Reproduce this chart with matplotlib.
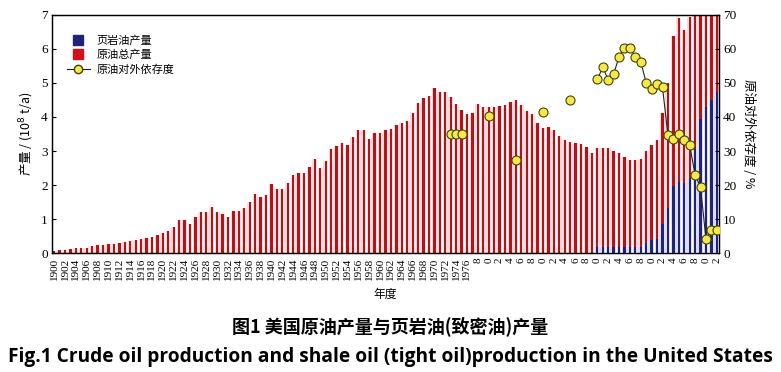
import numpy as np
import pandas as pd
import matplotlib
matplotlib.use("Agg")
import matplotlib.pyplot as plt
from matplotlib.lines import Line2D

plt.rcParams['font.family'] = ['Liberation Serif', 'Noto Sans CJK SC', 'DejaVu Sans']

# ---------------- data ----------------
start_year = 1900
crude_total = [
    0.07, 0.09, 0.11, 0.13, 0.16, 0.17, 0.15, 0.21, 0.23, 0.23,   # 1900-1909
    0.27, 0.28, 0.29, 0.34, 0.35, 0.38, 0.41, 0.44, 0.48, 0.53,   # 1910-1919
    0.61, 0.65, 0.76, 0.98, 0.98, 0.86, 1.06, 1.21, 1.21, 1.37,   # 1920-1929
    1.21, 1.16, 1.07, 1.24, 1.24, 1.33, 1.50, 1.74, 1.64, 1.71,   # 1930-1939
    2.03, 1.90, 1.88, 2.06, 2.30, 2.35, 2.37, 2.53, 2.76, 2.51,   # 1940-1949
    2.71, 3.06, 3.14, 3.23, 3.18, 3.40, 3.61, 3.61, 3.35, 3.54,   # 1950-1959
    3.54, 3.61, 3.66, 3.76, 3.82, 3.89, 4.13, 4.41, 4.57, 4.61,   # 1960-1969
    4.85, 4.73, 4.73, 4.60, 4.38, 4.19, 4.09, 4.13, 4.37, 4.30,   # 1970-1979
    4.30, 4.28, 4.32, 4.34, 4.45, 4.49, 4.34, 4.18, 4.09, 3.81,   # 1980-1989
    3.69, 3.71, 3.62, 3.44, 3.32, 3.27, 3.23, 3.21, 3.13, 2.95,   # 1990-1999
    3.10, 3.10, 3.08, 3.00, 2.93, 2.82, 2.74, 2.74, 2.76, 3.01,   # 2000-2009
    3.17, 3.32, 4.13, 5.00, 6.38, 6.89, 6.55, 6.92, 8.10, 9.10,   # 2010-2019
    8.30, 8.30, 8.80,                                             # 2020-2022
]
shale_years = list(range(2000, 2023))
shale_oil = [0.18, 0.18, 0.18, 0.18, 0.18, 0.18, 0.18, 0.18, 0.20, 0.31,
             0.39, 0.43, 0.85, 1.32, 1.98, 2.10, 2.06, 2.22, 3.05, 3.95,
             4.30, 4.50, 4.74]
dep_years = [1973, 1974, 1975, 1980, 1985, 1990, 1995] + list(range(2000, 2023))
dep_values = [35.0, 35.0, 35.0, 40.4, 27.5, 41.5, 44.9,
              51.0, 54.6, 50.9, 52.6, 57.6, 60.2, 60.2, 57.7, 56.2, 50.0,
              48.3, 49.7, 48.7, 34.6, 33.6, 35.1, 33.3, 31.7, 23.1, 19.4,
              4.2, 6.8, 6.8]

legend_labels = ['页岩油产量', '原油总产量', '原油对外依存度']
ylabel_left = '产量 / (10$^8$ t/a)'
ylabel_right = '原油对外依存度 / %'
xlabel = '年度'
title_cn = '图1 美国原油产量与页岩油(致密油)产量'
title_en = 'Fig.1 Crude oil production and shale oil (tight oil)production in the United States'

# ---------------- figure ----------------
years = np.arange(start_year, start_year + len(crude_total))
fig = plt.figure(figsize=(7.81, 3.72), dpi=100)
ax = fig.add_axes([0.0666, 0.319, 0.9206 - 0.0666, 0.9605 - 0.319])

red = '#b3141c'
blue = '#1f2478'
# halo (soft fill) + core bars
ax.bar(years, crude_total, width=0.9, color='#f8dcdc', zorder=1)
ax.bar(years, crude_total, width=0.42, color=red, zorder=2)
ax.bar(shale_years, shale_oil, width=0.9, color='#dcdcee', zorder=3)
ax.bar(shale_years, shale_oil, width=0.42, color=blue, zorder=4)

ax.set_xlim(1899.6, 2022.4)
ax.set_ylim(0, 7)
ax.set_yticks(range(0, 8))
ax.tick_params(axis='y', direction='in', length=3, labelsize=9.5, pad=3)
xt = list(range(1900, 2023, 2))
xtl = [str(y) if y < 1978 else str(y)[-1] for y in xt]
ax.set_xticks(xt)
ax.set_xticklabels(xtl, rotation=90, fontsize=8)
ax.tick_params(axis='x', direction='in', length=0, pad=3)
ax.set_ylabel(ylabel_left, fontsize=9, labelpad=4,
              family=['Noto Sans CJK SC', 'DejaVu Sans'])
ax.set_xlabel(xlabel, fontsize=8.5, labelpad=6,
              family=['Noto Sans CJK SC', 'DejaVu Sans'])

ax2 = ax.twinx()
ax2.set_ylim(0, 70)
ax2.set_yticks(range(0, 80, 10))
ax2.tick_params(axis='y', direction='in', length=3, labelsize=9.5, pad=3)
ax2.set_ylabel(ylabel_right, fontsize=9, rotation=270, labelpad=13,
               family=['Noto Sans CJK SC', 'DejaVu Sans'])

dep = pd.Series(dep_values, index=dep_years).reindex(years)
ax2.plot(years, dep.values, color='#222222', lw=0.8, marker='o',
         markersize=6.5, markerfacecolor='#f4e84a', markeredgecolor='#444400',
         markeredgewidth=0.8, zorder=5)

for a in (ax, ax2):
    for s in a.spines.values():
        s.set_linewidth(0.9)

handles = [
    Line2D([], [], ls='none', marker='s', markersize=7.5, color=blue),
    Line2D([], [], ls='none', marker='s', markersize=7.5, color='#d0101a'),
    Line2D([], [], color='#222222', lw=0.8, marker='o', markersize=6,
           markerfacecolor='#f4e84a', markeredgecolor='#444400'),
]
ax.legend(handles, legend_labels, loc='upper left', frameon=False,
          bbox_to_anchor=(0.008, 0.955), handlelength=2.0,
          labelspacing=0.35, handletextpad=0.6,
          prop={'family': ['Noto Sans CJK SC', 'DejaVu Sans'], 'size': 8})

fig.text(0.5, 0.123, title_cn, ha='center', va='center', fontsize=13,
         fontweight='bold', family=['Noto Sans CJK SC', 'DejaVu Sans'])
fig.text(0.010, 0.040, title_en, ha='left', va='center', fontsize=13.8,
         fontweight='bold', family=['Open Sans', 'DejaVu Sans'])

fig.savefig('out.png', dpi=100)
